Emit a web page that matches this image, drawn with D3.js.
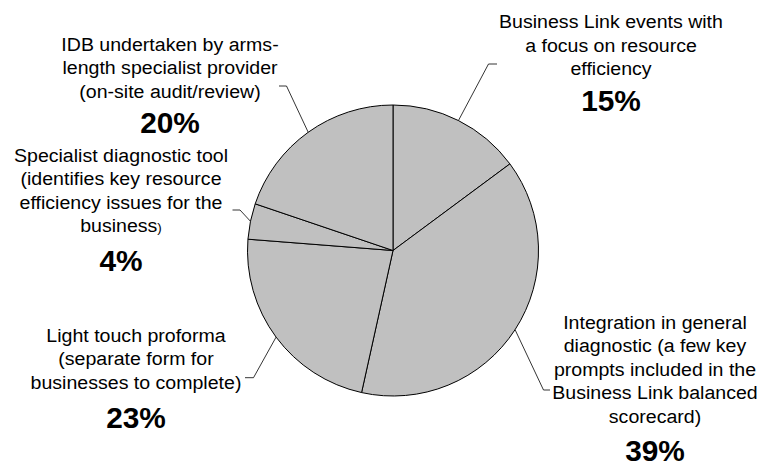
<!DOCTYPE html>
<html>
<head>
<meta charset="utf-8">
<script src="https://cdn.jsdelivr.net/npm/d3@7"></script>
<style>
  body { margin: 0; background: #fff; }
  svg { display: block; }
  text { font-family: "Liberation Sans", Arial, sans-serif; fill: #000; }
</style>
</head>
<body>
<script>
// slices, clockwise from 12 o'clock
var categories = [
  ["Business Link events with", "a focus on resource", "efficiency"],
  ["Integration in general", "diagnostic (a few key", "prompts included in the", "Business Link balanced", "scorecard)"],
  ["Light touch proforma", "(separate form for", "businesses to complete)"],
  ["Specialist diagnostic tool", "(identifies key resource", "efficiency issues for the", "business)"],
  ["IDB undertaken by arms-", "length specialist provider", "(on-site audit/review)"]
]
var values = [15, 39, 23, 4, 20]
var pctLabels = ["15%", "39%", "23%", "4%", "20%"]

// where each label sits (text centre, first baseline, % baseline) and its leader stub
var labelLayout = [
  {cx: 611, y0: 28.5, pctY: 111.5, stub: [488.5, 497, 64]},
  {cx: 655, y0: 329, pctY: 461, stub: [543.5, 550, 390]},
  {cx: 136, y0: 342, pctY: 428, stub: [253.5, 245, 377.7]},
  {cx: 121, y0: 162, pctY: 271, stub: [240, 232.5, 210]},
  {cx: 170, y0: 51, pctY: 133, stub: [286.5, 279, 86]}
]

var width = 760, height = 466
var cx = 393, cy = 250.5, radius = 145.5
var lineH = 23.5, stretch = 1.03

var svg = d3.select("body").append("svg")
  .attr("width", width)
  .attr("height", height)

var pie = d3.pie().sort(null).value(function(d) { return d })
var arcs = pie(values)

var arc = d3.arc().innerRadius(0).outerRadius(radius)
var edgeArc = d3.arc().innerRadius(radius).outerRadius(radius)

var g = svg.append("g")
  .attr("transform", "translate(" + cx + "," + cy + ")")

g.selectAll("path.slice")
  .data(arcs)
  .enter().append("path")
  .attr("class", "slice")
  .attr("d", arc)
  .attr("fill", "#c0c0c0")
  .attr("stroke", "#000")
  .attr("stroke-width", 1)
  .attr("stroke-linejoin", "round")

// leader lines: arc edge at mid angle -> elbow -> short horizontal stub
svg.selectAll("path.leader")
  .data(arcs)
  .enter().append("path")
  .attr("class", "leader")
  .attr("fill", "none")
  .attr("stroke", "#000")
  .attr("stroke-width", 0.8)
  .attr("d", function(d, i) {
    var p = edgeArc.centroid(d)
    var s = labelLayout[i].stub
    return "M" + (p[0] + cx) + "," + (p[1] + cy) + "L" + s[0] + "," + s[2] + "L" + s[1] + "," + s[2]
  })

// labels
var labels = svg.selectAll("g.label")
  .data(arcs)
  .enter().append("g")
  .attr("class", "label")
  .attr("transform", function(d, i) {
    return "translate(" + labelLayout[i].cx + ",0) scale(" + stretch + ",1)"
  })

labels.each(function(d, i) {
  var el = d3.select(this)
  var lay = labelLayout[i]
  categories[i].forEach(function(line, j) {
    var t = el.append("text")
      .attr("x", 0)
      .attr("y", lay.y0 + j * lineH)
      .attr("text-anchor", "middle")
      .attr("font-size", 19)
    if (line === "business)") {
      // the closing bracket is set smaller in the original
      t.append("tspan").text("business")
      t.append("tspan").attr("font-size", 13).text(")")
    } else {
      t.text(line)
    }
  })
  el.append("text")
    .attr("x", 0)
    .attr("y", lay.pctY)
    .attr("text-anchor", "middle")
    .attr("font-size", 29)
    .attr("font-weight", "bold")
    .text(pctLabels[i])
})
</script>
</body>
</html>
